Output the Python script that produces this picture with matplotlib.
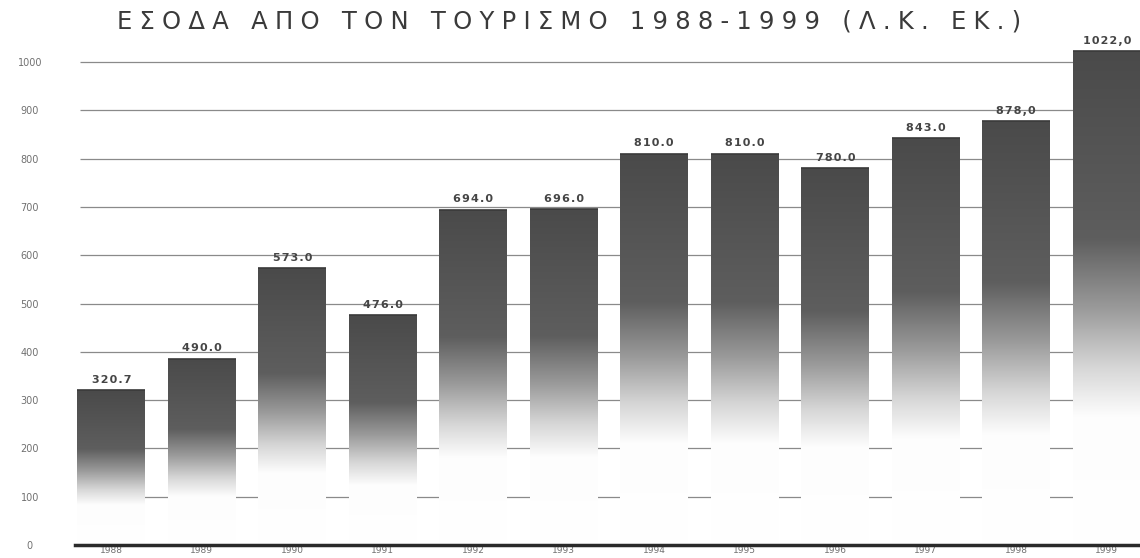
import numpy as np
import matplotlib
matplotlib.use('Agg')
import matplotlib.pyplot as plt
from matplotlib.colors import LinearSegmentedColormap

# ----------------------------------------------------------------------
# Dados
years = ['1988', '1989', '1990', '1991', '1992', '1993',
         '1994', '1995', '1996', '1997', '1998', '1999']
revenue = [320.7, 386.0, 573.0, 476.0, 694.0, 696.0,
           810.0, 810.0, 780.0, 843.0, 878.0, 1022.0]
value_labels = ['320.7', '490.0', '573.0', '476.0', '694.0', '696.0',
                '810.0', '810.0', '780.0', '843.0', '878,0', '1022,0']
yticks = list(range(0, 1001, 100))
title = 'ΕΣΟΔΑ ΑΠΟ ΤΟΝ ΤΟΥΡΙΣΜΟ 1988-1999 (Λ.Κ. ΕΚ.)'


def spaced(s, gap='\u2009'):
    # espacamento entre letras (fonte original e bem larga)
    return gap.join(s)


# ----------------------------------------------------------------------
W, H, DPI = 1140, 558, 100
fig = plt.figure(figsize=(W / DPI, H / DPI), dpi=DPI)
fig.patch.set_facecolor('white')

Y_MAX = 1080
ax = fig.add_axes([66 / W, 13 / H, 1086 / W, Y_MAX * 0.483 / H])
ax.set_facecolor('none')

x = np.arange(len(years))
BAR_W = 0.75

# gradiente: branco em baixo, cinza escuro em cima
cmap = LinearSegmentedColormap.from_list(
    'fade', [(0.0, '#ffffff'), (0.26, '#fdfdfd'), (0.36, '#d6d6d6'),
             (0.48, '#9a9a9a'), (0.62, '#5e5e5e'), (1.0, '#4a4a4a')])
grad = np.linspace(0, 1, 256)[:, None]

bars = ax.bar(x, revenue, width=BAR_W, color='none', edgecolor='none', zorder=3)
for b, v in zip(bars, revenue):
    x0 = b.get_x()
    im = ax.imshow(grad, cmap=cmap, origin='lower', aspect='auto',
                   extent=(x0, x0 + BAR_W, 0, v), zorder=3,
                   interpolation='bilinear')
    im.set_clip_path(b)
    # borda superior um pouco mais escura
    ax.hlines(v, x0, x0 + BAR_W, color='#3a3a3a', lw=1.2, zorder=3.5)

# linhas de grade (atras das barras)
ax.hlines(yticks[1:], -0.35, 11.6, color='#8a8a8a', lw=0.9, zorder=1)

# rotulos de valor
for xi, v, lab in zip(x, revenue, value_labels):
    ax.text(xi, v + 11, spaced(lab, '\u200a'), ha='center', va='bottom',
            fontsize=8, fontweight='bold', color='#454545', zorder=4)

ax.set_xlim(-0.5, 11.5)
ax.set_ylim(0, Y_MAX)

ax.set_yticks(yticks)
ax.set_yticklabels([str(t) for t in yticks])
ax.tick_params(axis='y', length=0, pad=26, labelsize=7, labelcolor='#707070')
for t in ax.get_yticklabels():
    t.set_horizontalalignment('center')

ax.set_xticks(x)
ax.set_xticklabels(years)
ax.tick_params(axis='x', length=0, pad=1, labelsize=6.5, labelcolor='#707070')

for s in ('top', 'right', 'left'):
    ax.spines[s].set_visible(False)
ax.spines['bottom'].set_linewidth(2.5)
ax.spines['bottom'].set_color('#2a2a2a')
ax.spines['bottom'].set_bounds(-0.4, 11.6)
ax.spines['bottom'].set_zorder(5)

fig.text(569 / W, 1 - 22 / H, spaced(title, '\u2009\u200a'), ha='center',
         va='center', fontsize=17.5, color='#3a3a3a')

fig.savefig('out.png', dpi=DPI)
